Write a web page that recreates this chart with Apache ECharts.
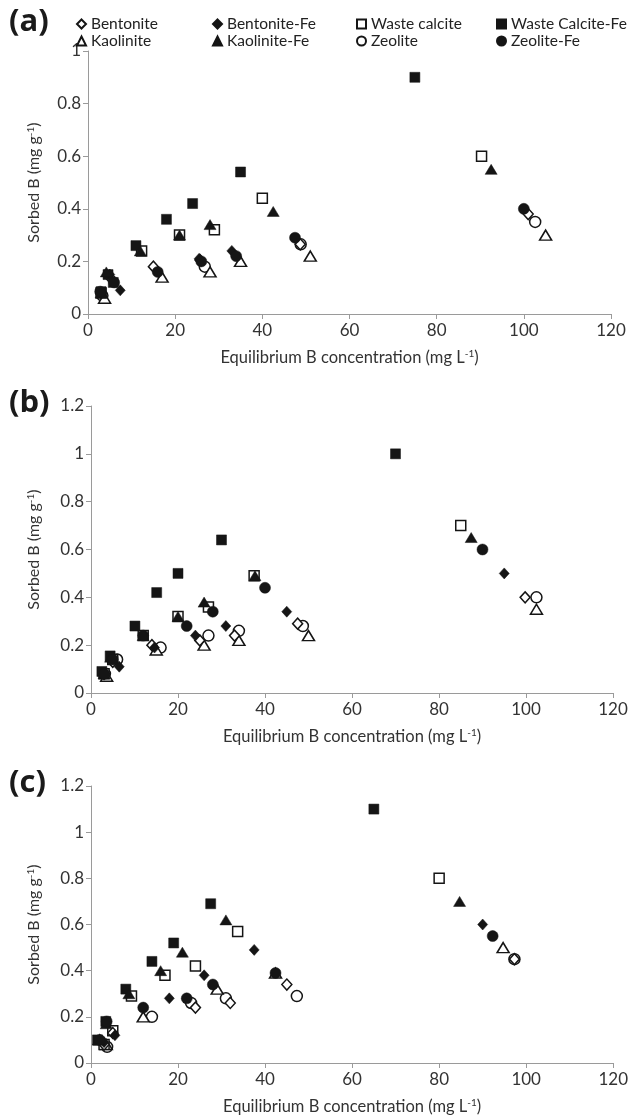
<!DOCTYPE html>
<html>
<head>
    <meta charset="utf-8">
    <title>Sorbed B</title>
    <script src="https://cdn.jsdelivr.net/npm/echarts@6/dist/echarts.min.js"></script>
    <style>
        body { margin: 0; background: #fff; }
    </style>
</head>
<body>
    <div id="main" style="width: 631px;height:1117px;"></div>
    <script type="text/javascript">
        var myChart = echarts.init(document.getElementById('main'));

        // 图例名称
        var names = ["Bentonite", "Bentonite-Fe", "Waste calcite", "Waste Calcite-Fe",
            "Kaolinite", "Kaolinite-Fe", "Zeolite", "Zeolite-Fe"];
        var xTicks = [0, 20, 40, 60, 80, 100, 120];

        // (a)
        var a_bentonite = [[3, 0.08], [5, 0.14], [15, 0.18], [25.7, 0.205], [48.7, 0.265], [101, 0.38]];
        var a_bentoniteFe = [[3, 0.08], [5, 0.15], [7.4, 0.09], [25.5, 0.21], [33, 0.24]];
        var a_wasteCalcite = [[3, 0.08], [12.3, 0.24], [21, 0.3], [29, 0.32], [40, 0.44], [90.3, 0.6]];
        var a_wasteCalciteFe = [[3, 0.085], [4.6, 0.15], [5.8, 0.12], [11, 0.26], [18, 0.36], [24, 0.42], [35, 0.54], [75, 0.9]];
        var a_kaolinite = [[3.8, 0.06], [17, 0.14], [28, 0.16], [35, 0.2], [51, 0.22], [105, 0.3]];
        var a_kaoliniteFe = [[3, 0.08], [4.2, 0.16], [12, 0.24], [21, 0.3], [28, 0.34], [42.5, 0.39], [92.5, 0.55]];
        var a_zeolite = [[3.3, 0.07], [26.8, 0.18], [48.8, 0.265], [102.6, 0.35]];
        var a_zeoliteFe = [[2.8, 0.085], [6, 0.12], [16, 0.16], [26, 0.2], [34, 0.22], [47.5, 0.29], [100, 0.4]];

        // (b)
        var b_bentonite = [[3, 0.08], [5, 0.13], [14, 0.2], [25, 0.22], [33, 0.24], [47.5, 0.29], [99.8, 0.4]];
        var b_bentoniteFe = [[3, 0.08], [6.5, 0.11], [14.6, 0.19], [24, 0.24], [31, 0.28], [45, 0.34], [95, 0.5]];
        var b_wasteCalcite = [[3, 0.08], [5, 0.14], [12, 0.24], [20, 0.32], [27, 0.36], [37.5, 0.49], [85, 0.7]];
        var b_wasteCalciteFe = [[2.5, 0.09], [4.4, 0.155], [10.1, 0.28], [15.1, 0.42], [20, 0.5], [30, 0.64], [70, 1.0]];
        var b_kaolinite = [[3.6, 0.07], [15, 0.18], [26, 0.2], [34, 0.22], [50, 0.24], [102.4, 0.35]];
        var b_kaoliniteFe = [[3, 0.08], [4.5, 0.15], [12, 0.24], [20, 0.32], [26, 0.38], [37.7, 0.49], [87.4, 0.65]];
        var b_zeolite = [[3.2, 0.08], [6, 0.14], [16, 0.19], [27, 0.24], [34, 0.26], [48.7, 0.28], [102.4, 0.4]];
        var b_zeoliteFe = [[3, 0.08], [5, 0.14], [12, 0.24], [22, 0.28], [28, 0.34], [40, 0.44], [90, 0.6]];

        // (c)
        var c_bentonite = [[3, 0.08], [5, 0.13], [24, 0.24], [32, 0.26], [45, 0.34], [97.3, 0.45]];
        var c_bentoniteFe = [[3, 0.09], [5.5, 0.12], [18, 0.28], [26, 0.38], [37.5, 0.49], [90, 0.6]];
        var c_wasteCalcite = [[3, 0.08], [5, 0.14], [9.3, 0.29], [17, 0.38], [24, 0.42], [33.7, 0.57], [80, 0.8]];
        var c_wasteCalciteFe = [[1.5, 0.1], [3.4, 0.18], [8, 0.32], [14, 0.44], [19, 0.52], [27.5, 0.69], [65, 1.1]];
        var c_kaolinite = [[2, 0.1], [3.5, 0.08], [12, 0.2], [29, 0.32], [42.4, 0.39], [94.7, 0.5]];
        var c_kaoliniteFe = [[1.7, 0.1], [3.5, 0.17], [8.7, 0.3], [16, 0.4], [21, 0.48], [31, 0.62], [84.7, 0.7]];
        var c_zeolite = [[3.7, 0.07], [14, 0.2], [23, 0.26], [31, 0.28], [47.3, 0.29], [97.3, 0.45]];
        var c_zeoliteFe = [[2, 0.1], [3.6, 0.18], [12, 0.24], [22, 0.28], [28, 0.34], [42.4, 0.39], [92.3, 0.55]];

        var panels = [
            [a_bentonite, a_bentoniteFe, a_wasteCalcite, a_wasteCalciteFe, a_kaolinite, a_kaoliniteFe, a_zeolite, a_zeoliteFe],
            [b_bentonite, b_bentoniteFe, b_wasteCalcite, b_wasteCalciteFe, b_kaolinite, b_kaoliniteFe, b_zeolite, b_zeoliteFe],
            [c_bentonite, c_bentoniteFe, c_wasteCalcite, c_wasteCalciteFe, c_kaolinite, c_kaoliniteFe, c_zeolite, c_zeoliteFe]
        ];

        // 符号样式
        var symbols = ['diamond', 'diamond', 'rect', 'rect', 'triangle', 'triangle', 'circle', 'circle'];
        var sizes = [[10, 11], [10, 11], [10, 10], [10, 10], [12, 10], [12, 10], [11, 11], [11, 11]];
        var filled = [false, true, false, true, false, true, false, true];

        var font = 'Lato, "Open Sans", sans-serif';
        var grids = [
            { left: 88, top: 51, width: 523, height: 263 },
            { left: 91, top: 406, width: 522, height: 287 },
            { left: 91, top: 786, width: 526, height: 277 }
        ];
        var yMax = [1, 1.2, 1.2];

        var xAxes = [], yAxes = [], series = [];
        grids.forEach(function(g, i) {
            xAxes.push({
                type: 'value', gridIndex: i, min: xTicks[0], max: xTicks[xTicks.length - 1], interval: 20,
                name: 'Equilibrium B concentration (mg L{s|-1})',
                nameLocation: 'middle', nameGap: 35,
                nameTextStyle: {
                    color: '#333', fontSize: 16.5, fontFamily: font,
                    rich: { s: { fontSize: 10, verticalAlign: 'top', color: '#333', fontFamily: font } }
                },
                axisLine: { lineStyle: { color: '#9a9a9a' } },
                axisTick: { show: true, length: 5, lineStyle: { color: '#9a9a9a' } },
                axisLabel: { color: '#333', fontSize: 17, fontFamily: font, margin: 8 },
                splitLine: { show: false }
            });
            yAxes.push({
                type: 'value', gridIndex: i, min: 0, max: yMax[i], interval: 0.2,
                name: 'Sorbed B (mg g{s|-1})',
                nameLocation: 'middle', nameGap: g.left - 42,
                nameTextStyle: {
                    color: '#333', fontSize: 16, fontFamily: font,
                    rich: { s: { fontSize: 10, verticalAlign: 'top', color: '#333', fontFamily: font } }
                },
                axisLine: { show: true, lineStyle: { color: '#9a9a9a' } },
                axisTick: { show: true, length: 5, lineStyle: { color: '#9a9a9a' } },
                axisLabel: { color: '#333', fontSize: 17, fontFamily: font, margin: 7 },
                splitLine: { show: false }
            });
        });

        // 先画空心, 再画实心
        var order = [6, 4, 2, 0, 1, 3, 5, 7];
        panels.forEach(function(p, i) {
            order.forEach(function(k) {
                series.push({
                    name: names[k],
                    type: 'scatter',
                    xAxisIndex: i,
                    yAxisIndex: i,
                    data: p[k],
                    symbol: symbols[k],
                    symbolSize: sizes[k],
                    itemStyle: filled[k] ?
                        { color: '#151515', borderColor: '#151515', borderWidth: 0.5, opacity: 1 } :
                        { color: '#ffffff', borderColor: '#151515', borderWidth: 1.5, opacity: 1 }
                });
            });
        });

        // 图例：4列2行
        var legendLeft = [76, 212, 356, 496];
        var legendTop = [16, 33];
        var legends = names.map(function(n, k) {
            return {
                left: legendLeft[k % 4],
                top: legendTop[Math.floor(k / 4)],
                data: [{ name: n, icon: symbols[k] }],
                itemWidth: 9, itemHeight: 9,
                padding: 0,
                selectedMode: false,
                textStyle: { color: '#222', fontSize: 15.5, fontFamily: font }
            };
        });

        var labels = ['(a)', '(b)', '(c)'];
        var labelTop = [7, 388, 768];
        var graphics = labels.map(function(t, i) {
            return {
                type: 'text', left: 9, top: labelTop[i],
                style: { text: t, fontSize: 31, fontWeight: 'bold', fontFamily: '"Open Sans", sans-serif', fill: '#1a1a1a' }
            };
        });

        var option = {
            animation: false,
            backgroundColor: '#fff',
            grid: grids,
            xAxis: xAxes,
            yAxis: yAxes,
            legend: legends,
            graphic: graphics,
            series: series
        };

        myChart.setOption(option);
    </script>
</body>
</html>
